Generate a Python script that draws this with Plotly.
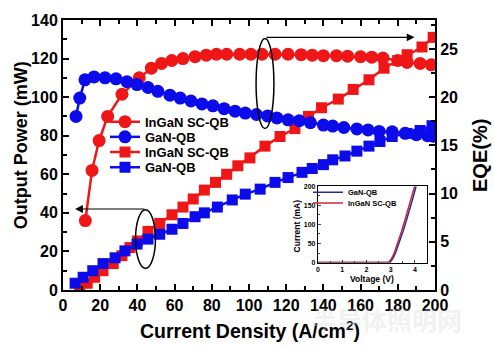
import plotly.graph_objects as go

# ---------------- data ----------------
# EQE (%) vs current density (A/cm^2) -- circles, right axis
eqe_ingan_x = [12, 15.6, 19.4, 24, 31.7, 41, 47.5, 53, 58.5, 64.5, 71, 77, 82.5, 88, 95, 101, 107,
               114, 121, 128, 134, 140, 147, 153, 160, 166, 172, 180, 185, 192, 198]
eqe_ingan_y = [7.2, 12.4, 15.5, 18.0, 20.3, 22.0, 23.0, 23.5, 23.8, 24.0, 24.2, 24.35, 24.45, 24.45,
               24.45, 24.45, 24.45, 24.45, 24.45, 24.4, 24.35, 24.3, 24.3, 24.25, 24.2, 24.15, 24.05,
               23.8, 23.6, 23.5, 23.35]
eqe_gan_x = [7, 9, 11.8, 16.7, 22.6, 28.5, 34.4, 39.8, 45.7, 51, 57.5, 63, 68.8, 74.7, 80.6, 86.6,
             92.5, 98, 104, 110, 115, 121, 127, 133, 140, 145, 151, 158, 164, 170, 177, 184, 190,
             196, 199]
eqe_gan_y = [18.0, 19.9, 21.8, 22.1, 22.0, 21.9, 21.6, 21.3, 21.0, 20.6, 20.2, 19.9, 19.6, 19.3,
             19.1, 18.8, 18.55, 18.35, 18.2, 18.05, 17.85, 17.65, 17.55, 17.35, 17.1, 17.0, 16.85,
             16.7, 16.6, 16.45, 16.4, 16.25, 16.1, 16.0, 15.95]

# Output power (mW) vs current density -- squares, left axis
pow_ingan_x = [9, 13, 17, 21.5, 27, 31.7, 36, 40, 45.7, 52, 58.6, 64.5, 70, 76, 82, 88, 94, 100.5,
               108.6, 116.7, 124.7, 132, 139, 148, 156, 164.5, 172.6, 180, 185, 193, 199]
pow_ingan_y = [1.5, 3.5, 6.6, 10, 13.7, 17.8, 22, 25.4, 30.4, 34.5, 39, 43, 47.2, 51.8, 55.8, 60,
               64.4, 68.5, 74.6, 79.6, 83.7, 90, 94.5, 99, 104, 109, 115, 119, 122, 126, 131]
pow_gan_x = [6.5, 10.8, 16, 21.5, 28, 33.3, 39.8, 45.7, 52, 58.6, 64.5, 71, 76, 83, 91, 98, 106,
             114, 121, 128.5, 134, 140, 145, 151.6, 158, 164.5, 170.4, 177, 185, 192, 198.4]
pow_gan_y = [3.5, 6.6, 10, 13.7, 16.7, 20.3, 23.8, 26.4, 28.9, 31.5, 34.5, 38, 40, 43, 46.7, 49.7,
             52.3, 55.8, 58.3, 61, 63, 65, 67.5, 69.5, 72, 74.6, 77, 79.6, 81.2, 82.7, 85.2]

# Inset I-V curves
iv_gan_v = [0, 1, 2, 2.9, 3.0, 3.1, 3.2, 3.3, 3.4, 3.5, 3.6, 3.7, 3.8, 3.9, 4.0, 4.05]
iv_gan_i = [0, 0, 0, 0, 3, 12, 25, 42, 60, 80, 100, 120, 142, 165, 188, 200]
iv_ingan_v = [0, 1, 2, 2.85, 2.95, 3.05, 3.15, 3.25, 3.35, 3.45, 3.55, 3.65, 3.75, 3.85, 3.95, 3.99]
iv_ingan_i = [0, 0, 0, 0, 3, 12, 26, 43, 62, 82, 103, 124, 146, 168, 192, 200]

labels = ["InGaN SC-QB", "GaN-QB"]
x_ticks = [0, 20, 40, 60, 80, 100, 120, 140, 160, 180, 200]

RED = "rgb(238,22,22)"
BLUE = "rgb(12,12,235)"
FONT = "Liberation Sans, Arial, sans-serif"

# plot-area pixel geometry helpers (for placing decorations)
L, R, T, B = 63, 435, 14, 290
def px(xp):
    return (xp - L) / (R - L)
def py(yp):
    return (B - yp) / (B - T)

fig = go.Figure()

fig.add_trace(go.Scatter(x=eqe_ingan_x, y=eqe_ingan_y, name=labels[0], yaxis="y2",
                         mode="lines+markers", line=dict(color=RED, width=2.5),
                         marker=dict(symbol="circle", size=13, color=RED), legend="legend7"))
fig.add_trace(go.Scatter(x=eqe_gan_x, y=eqe_gan_y, name=labels[1], yaxis="y2",
                         mode="lines+markers", line=dict(color=BLUE, width=2.5),
                         marker=dict(symbol="circle", size=13, color=BLUE), legend="legend3"))
fig.add_trace(go.Scatter(x=pow_ingan_x, y=pow_ingan_y, name=labels[0],
                         mode="lines+markers", line=dict(color=RED, width=2.5),
                         marker=dict(symbol="square", size=11, color=RED), legend="legend4"))
fig.add_trace(go.Scatter(x=pow_gan_x, y=pow_gan_y, name=labels[1],
                         mode="lines+markers", line=dict(color=BLUE, width=2.5),
                         marker=dict(symbol="square", size=11, color=BLUE), legend="legend5"))

# inset
fig.add_trace(go.Scatter(x=iv_gan_v, y=iv_gan_i, name=labels[1], xaxis="x3", yaxis="y3",
                         mode="lines", line=dict(color="rgb(40,40,150)", width=1.5),
                         legend="legend2"))
fig.add_trace(go.Scatter(x=iv_ingan_v, y=iv_ingan_i, name=labels[0], xaxis="x3", yaxis="y3",
                         mode="lines", line=dict(color="rgb(200,40,60)", width=1.5),
                         legend="legend6"))

axis_common = dict(showline=True, linecolor="black", linewidth=2, ticks="inside",
                   tickcolor="black", tickwidth=2, showgrid=False, zeroline=False,
                   tickfont=dict(size=16, family=FONT, color="black", weight="bold"))

leg_font = dict(size=13, family=FONT, color="black", weight="bold")
ins_font = dict(size=7.5, family=FONT, color="black", weight="bold")
main_centers = [118, 133.5, 149, 164.5]
ins_centers = [190, 201]
def leg(center, xpix, font):
    return dict(x=px(xpix), y=py(center), xanchor="left", yanchor="middle",
                bgcolor="rgba(0,0,0,0)", font=font, itemwidth=30)

fig.update_layout(
    width=494, height=348,
    margin=dict(l=L, r=494 - R, t=T, b=348 - B),
    paper_bgcolor="white", plot_bgcolor="white",
    font=dict(family=FONT, color="black", weight="bold"),
    showlegend=True,
    xaxis=dict(range=[0, 200], tickvals=x_ticks, ticklen=6, mirror="ticks",
               minor=dict(dtick=10, ticks="inside", ticklen=4, tickwidth=2, tickcolor="black"),
               domain=[0, 1], **axis_common),
    yaxis=dict(range=[0, 140], dtick=20, ticklen=6,
               minor=dict(dtick=10, ticks="inside", ticklen=4, tickwidth=2, tickcolor="black"),
               **axis_common),
    yaxis2=dict(range=[0, 28], dtick=5, ticklen=6, overlaying="y", side="right",
                minor=dict(dtick=2.5, ticks="inside", ticklen=4, tickwidth=2, tickcolor="black"),
                **axis_common),
    xaxis3=dict(domain=[px(318), px(427)], anchor="y3", range=[0, 4.5], dtick=1,
                showline=True, linecolor="black", linewidth=1.2, mirror=True, ticks="inside",
                ticklen=3, showgrid=False, zeroline=False, ticklabelstandoff=0,
                minor=dict(dtick=0.5, ticks="inside", ticklen=2),
                tickfont=dict(size=7, family=FONT, color="black", weight="bold")),
    yaxis3=dict(domain=[py(262), py(184)], anchor="x3", range=[0, 200], dtick=50,
                showline=True, linecolor="black", linewidth=1.2, mirror=True, ticks="inside",
                ticklen=3, showgrid=False, zeroline=False, ticklabelstandoff=0,
                minor=dict(dtick=25, ticks="inside", ticklen=2),
                tickfont=dict(size=7, family=FONT, color="black", weight="bold")),
    legend7=leg(main_centers[0], 105, leg_font),
    legend3=leg(main_centers[1], 105, leg_font),
    legend4=leg(main_centers[2], 105, leg_font),
    legend5=leg(main_centers[3], 105, leg_font),
    legend2=leg(ins_centers[0], 308, ins_font),
    legend6=leg(ins_centers[1], 308, ins_font),
)

# axis titles as annotations
fig.add_annotation(text="Current Density (A/cm<sup>2</sup>)", xref="paper", yref="paper",
                   x=px(250), y=py(331), xanchor="center", yanchor="middle", showarrow=False,
                   font=dict(size=19.5, family=FONT, color="black", weight="bold"))
fig.add_annotation(text="Output Power (mW)", xref="paper", yref="paper",
                   x=px(21), y=py(142), xanchor="center", yanchor="middle",
                   textangle=-90, showarrow=False,
                   font=dict(size=18, family=FONT, color="black", weight="bold"))
fig.add_annotation(text="EQE(%)", xref="paper", yref="paper",
                   x=px(480), y=py(152), xanchor="center", yanchor="middle",
                   textangle=-90, showarrow=False,
                   font=dict(size=20, family=FONT, color="black", weight="bold"))
fig.add_annotation(text="Voltage (V)", xref="paper", yref="paper",
                   x=px(372), y=py(279), xanchor="center", yanchor="middle",
                   showarrow=False, font=dict(size=8.5, family=FONT, color="black", weight="bold"))
fig.add_annotation(text="Current (mA)", xref="paper", yref="paper",
                   x=px(297), y=py(225), xanchor="center", yanchor="middle",
                   textangle=-90, showarrow=False,
                   font=dict(size=8.5, family=FONT, color="black", weight="bold"))

# ellipses and arrows
fig.add_shape(type="circle", xref="x", yref="y", x0=39, x1=49.7, y0=11.2, y1=41.6,
              line=dict(color="black", width=1.5))
fig.add_shape(type="circle", xref="x", yref="y", x0=103.8, x1=113.4, y0=83.7, y1=130.4,
              line=dict(color="black", width=1.5))
fig.add_annotation(x=6.5, y=42, ax=44.6, ay=42, xref="x", yref="y", axref="x", ayref="y",
                   text="", showarrow=True, arrowhead=2, arrowsize=1.3, arrowwidth=1.2,
                   arrowcolor="black")
fig.add_annotation(x=189, y=131, ax=108.6, ay=131, xref="x", yref="y", axref="x", ayref="y",
                   text="", showarrow=True, arrowhead=2, arrowsize=1.3, arrowwidth=1.2,
                   arrowcolor="black")

# faint watermark
fig.add_annotation(text="半导体照明网", xref="paper", yref="paper",
                   x=px(387), y=py(320), xanchor="center", yanchor="middle",
                   showarrow=False,
                   font=dict(size=25, family="Noto Sans CJK SC", color="rgba(215,215,215,0.35)"))

fig.write_html("out.html")
